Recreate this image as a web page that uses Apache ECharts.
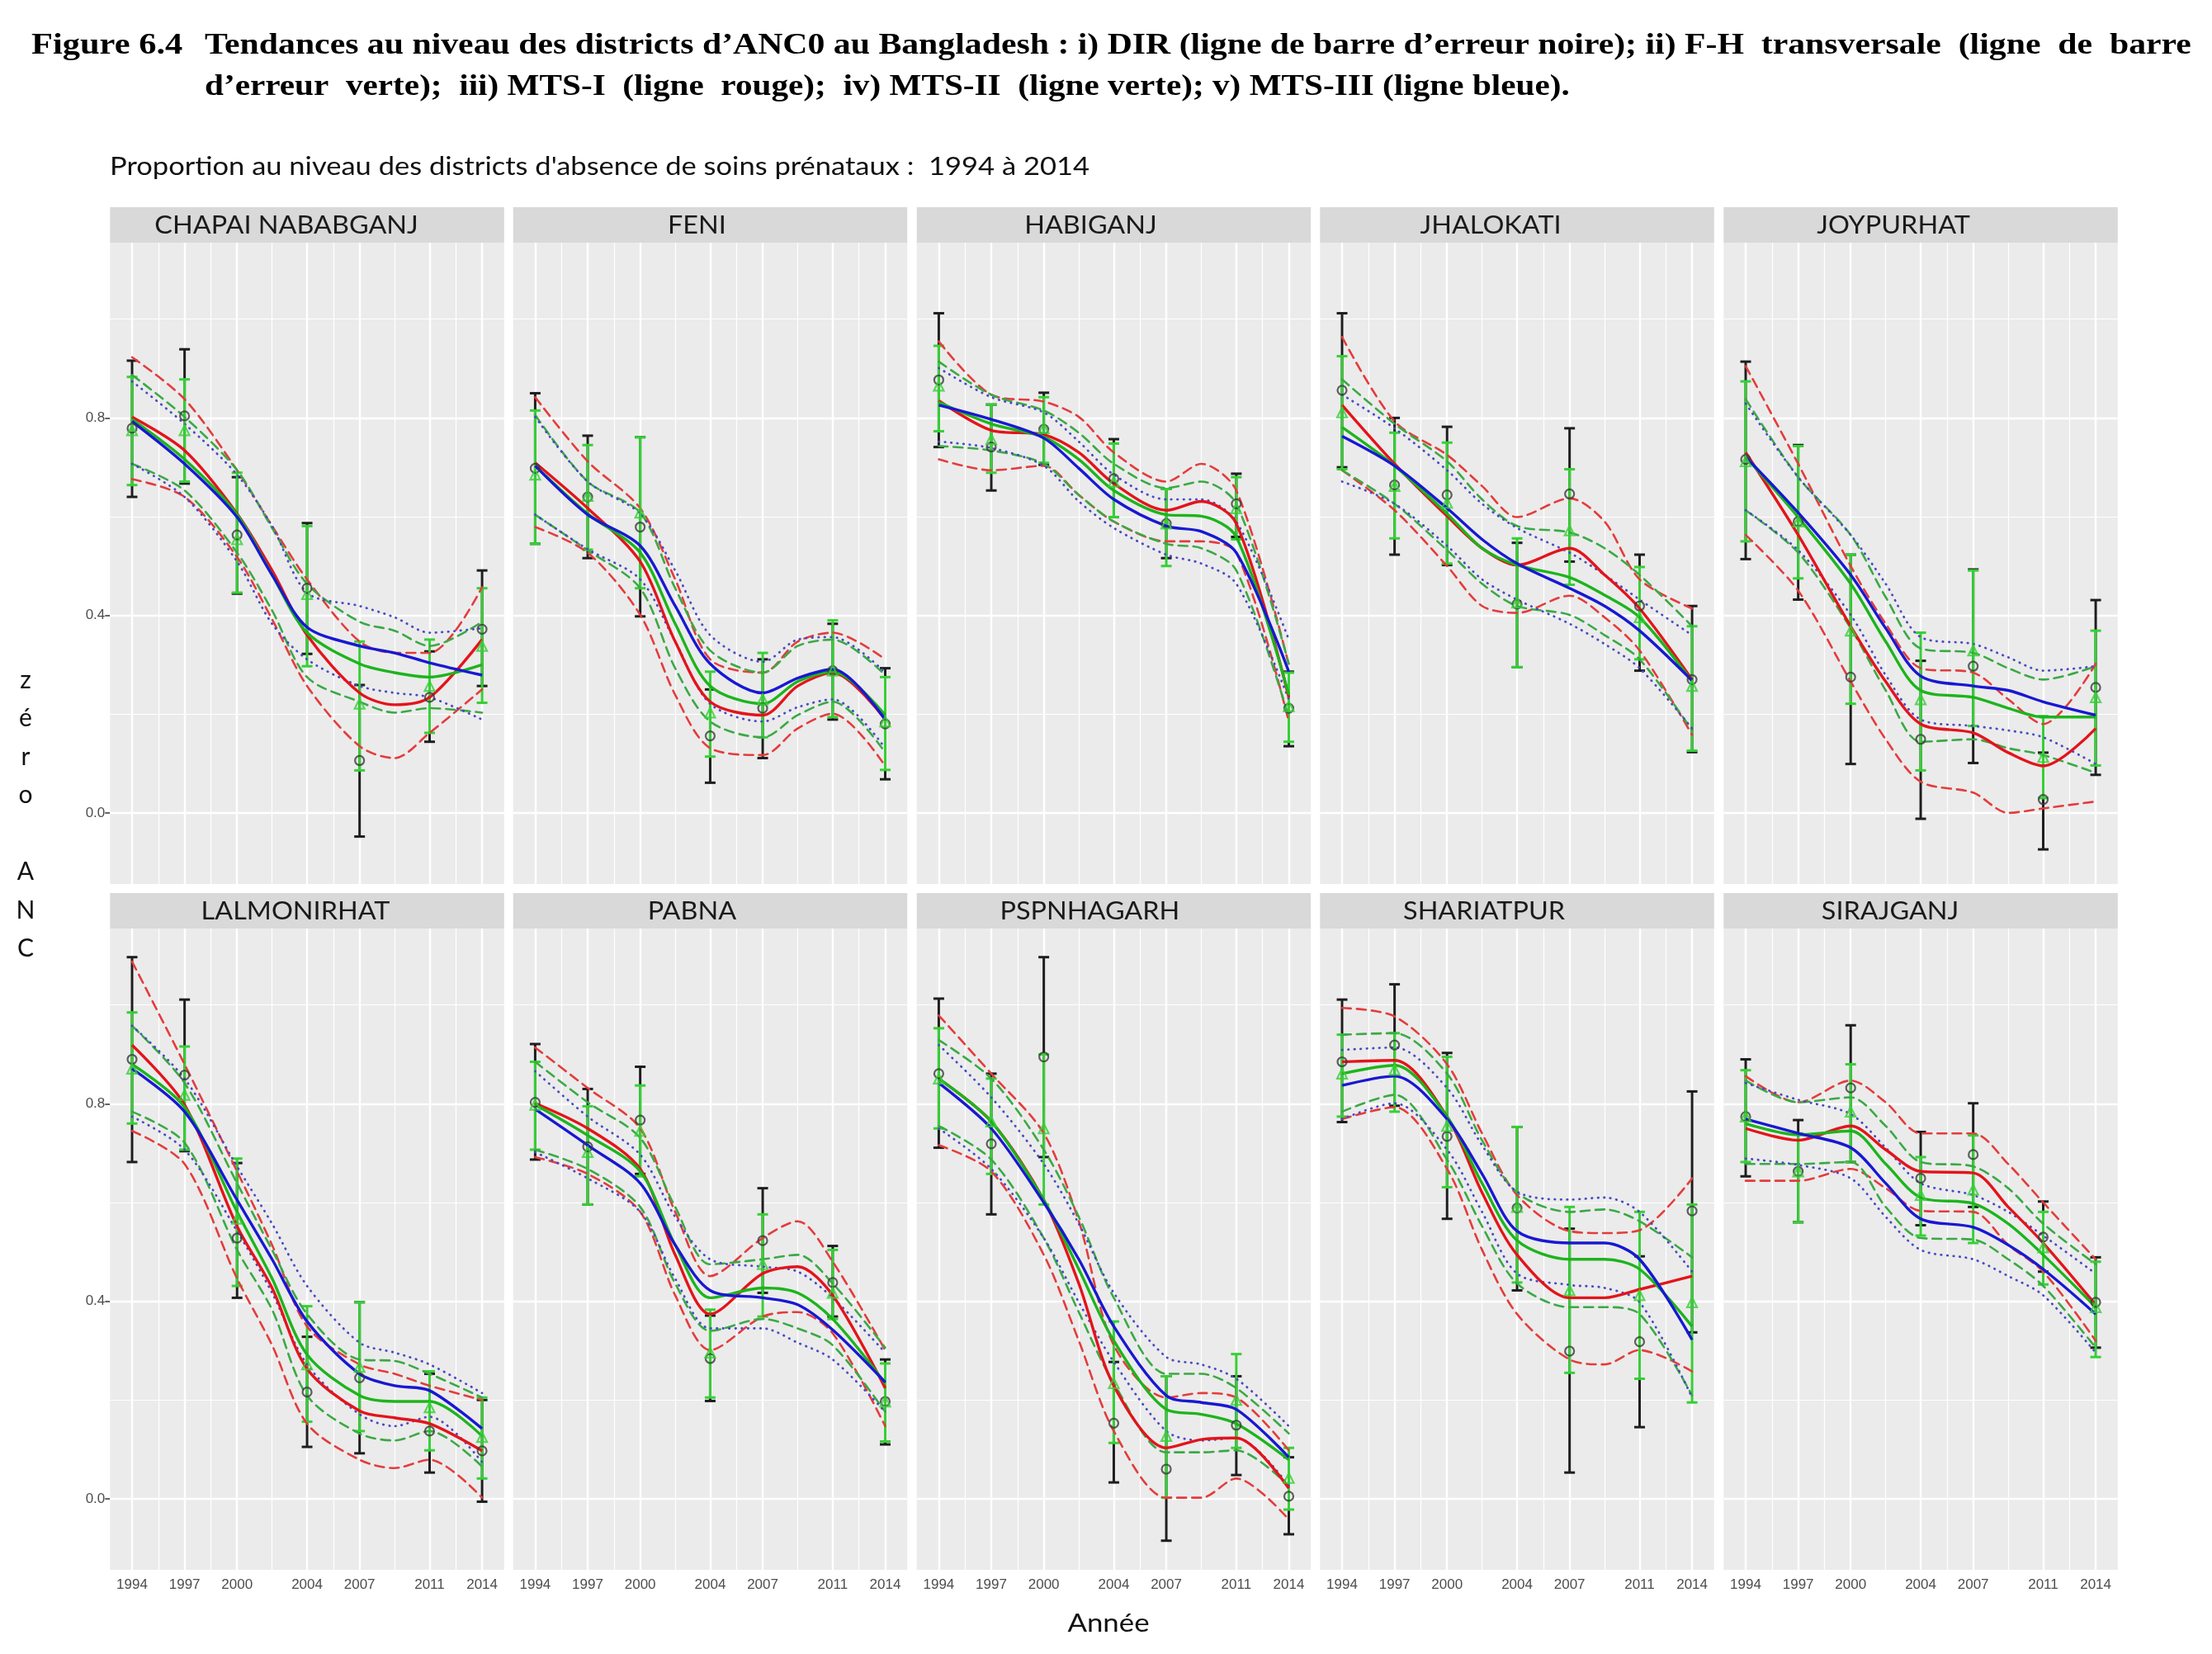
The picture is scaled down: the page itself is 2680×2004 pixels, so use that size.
<!DOCTYPE html>
<html><head><meta charset="utf-8">
<script src="https://cdn.jsdelivr.net/npm/echarts@6/dist/echarts.min.js"></script>
<style>html,body{margin:0;padding:0;background:#fff}#c{width:2680px;height:2004px}</style>
</head><body><div id="c"></div>
<script>
// ---------- DATA ----------
const districts = ['CHAPAI NABABGANJ','FENI','HABIGANJ','JHALOKATI','JOYPURHAT','LALMONIRHAT','PABNA','PSPNHAGARH','SHARIATPUR','SIRAJGANJ'];
const surveyYears = [1994,1997,2000,2004,2007,2011,2014];
const curveYears = [1994,1997,2000,2002,2004,2007,2009,2011,2014];
const yTickValues = [0, 0.4, 0.8];
const yMinorValues = [0.2, 0.6, 1.0];
const xMinorValues = [1995.5,1998.5,2002,2005.5,2009,2012.5];

// DIR (black error bars, open circles) at surveyYears
const dirMid = [
 [0.779,0.804,0.563,0.455,0.106,0.234,0.372],
 [0.698,0.640,0.579,0.156,0.212,0.288,0.180],
 [0.877,0.741,0.777,0.677,0.586,0.626,0.212],
 [0.856,0.664,0.644,0.423,0.646,0.419,0.270],
 [0.716,0.590,0.275,0.149,0.297,0.027,0.254],
 [0.890,0.858,0.528,0.216,0.245,0.137,0.097],
 [0.803,0.713,0.767,0.284,0.523,0.438,0.197],
 [0.861,0.719,0.895,0.153,0.060,0.149,0.005],
 [0.885,0.919,0.734,0.589,0.299,0.318,0.583],
 [0.774,0.663,0.832,0.649,0.697,0.530,0.398]];
const dirLow = [
 [0.640,0.667,0.444,0.322,-0.048,0.144,0.257],
 [0.545,0.516,0.398,0.061,0.111,0.189,0.068],
 [0.741,0.653,0.705,0.599,0.516,0.559,0.135],
 [0.700,0.523,0.502,0.295,0.509,0.288,0.123],
 [0.514,0.432,0.099,-0.012,0.101,-0.074,0.077],
 [0.682,0.704,0.407,0.105,0.092,0.053,-0.006],
 [0.687,0.596,0.658,0.198,0.417,0.369,0.110],
 [0.711,0.576,0.692,0.033,-0.085,0.048,-0.072],
 [0.763,0.796,0.567,0.422,0.053,0.145,0.337],
 [0.653,0.560,0.682,0.554,0.591,0.460,0.306]];
const dirHigh = [
 [0.916,0.939,0.680,0.587,0.259,0.327,0.491],
 [0.850,0.764,0.761,0.250,0.311,0.383,0.293],
 [1.012,0.827,0.851,0.757,0.656,0.687,0.286],
 [1.012,0.800,0.782,0.547,0.779,0.523,0.419],
 [0.914,0.745,0.523,0.308,0.493,0.122,0.431],
 [1.097,1.011,0.680,0.328,0.398,0.253,0.200],
 [0.921,0.830,0.875,0.371,0.629,0.512,0.282],
 [1.013,0.861,1.097,0.277,0.248,0.248,0.084],
 [1.011,1.042,0.903,0.753,0.547,0.491,0.825],
 [0.890,0.767,0.959,0.743,0.801,0.602,0.489]];

// F-H transversale (green error bars, open triangles) at surveyYears
const fhMid = [
 [0.775,0.775,0.554,0.443,0.221,0.257,0.338],
 [0.685,0.642,0.608,0.203,0.230,0.288,0.185],
 [0.865,0.757,0.779,0.671,0.586,0.617,0.216],
 [0.811,0.662,0.628,0.426,0.572,0.396,0.257],
 [0.712,0.590,0.369,0.230,0.329,0.113,0.234],
 [0.871,0.818,0.567,0.272,0.267,0.185,0.125],
 [0.798,0.702,0.745,0.296,0.475,0.417,0.197],
 [0.851,0.764,0.750,0.234,0.127,0.200,0.042],
 [0.861,0.869,0.755,0.591,0.422,0.412,0.398],
 [0.774,0.663,0.784,0.615,0.626,0.509,0.388]];
const fhLow = [
 [0.664,0.671,0.446,0.297,0.086,0.162,0.223],
 [0.545,0.533,0.455,0.114,0.153,0.194,0.087],
 [0.773,0.689,0.709,0.599,0.500,0.554,0.144],
 [0.696,0.556,0.505,0.295,0.462,0.311,0.126],
 [0.550,0.475,0.221,0.086,0.176,0.030,0.096],
 [0.760,0.707,0.431,0.156,0.137,0.098,0.041],
 [0.707,0.596,0.653,0.205,0.369,0.364,0.116],
 [0.750,0.658,0.596,0.113,0.002,0.103,-0.022],
 [0.774,0.784,0.631,0.438,0.255,0.243,0.195],
 [0.682,0.560,0.682,0.533,0.518,0.434,0.287]];
const fhHigh = [
 [0.883,0.878,0.689,0.581,0.347,0.351,0.455],
 [0.815,0.745,0.761,0.286,0.324,0.390,0.275],
 [0.946,0.827,0.842,0.748,0.656,0.680,0.284],
 [0.925,0.770,0.750,0.556,0.696,0.498,0.378],
 [0.874,0.743,0.523,0.365,0.491,0.196,0.369],
 [0.985,0.916,0.689,0.390,0.398,0.258,0.205],
 [0.885,0.795,0.837,0.383,0.576,0.504,0.274],
 [0.953,0.851,0.900,0.359,0.248,0.293,0.103],
 [0.940,0.943,0.895,0.753,0.591,0.581,0.596],
 [0.868,0.740,0.880,0.692,0.736,0.581,0.480]];

// MTS-I (red) at curveYears
const mts1 = [
 [0.802,0.734,0.606,0.491,0.360,0.243,0.219,0.234,0.351],
 [0.709,0.617,0.509,0.347,0.225,0.198,0.257,0.284,0.189],
 [0.835,0.775,0.766,0.730,0.667,0.613,0.631,0.586,0.234],
 [0.826,0.707,0.601,0.536,0.502,0.536,0.482,0.414,0.270],
 [0.730,0.563,0.378,0.266,0.180,0.162,0.122,0.095,0.171],
 [0.919,0.798,0.552,0.427,0.263,0.178,0.164,0.152,0.097],
 [0.801,0.750,0.668,0.494,0.374,0.456,0.470,0.412,0.224],
 [0.851,0.764,0.605,0.436,0.229,0.103,0.120,0.123,0.021],
 [0.885,0.888,0.774,0.620,0.494,0.407,0.407,0.424,0.451],
 [0.750,0.726,0.755,0.707,0.663,0.660,0.591,0.518,0.393]];
const mts1High = [
 [0.923,0.838,0.694,0.581,0.473,0.347,0.324,0.324,0.457],
 [0.842,0.712,0.617,0.473,0.311,0.284,0.347,0.365,0.311],
 [0.955,0.847,0.833,0.802,0.730,0.671,0.707,0.653,0.300],
 [0.964,0.793,0.725,0.662,0.599,0.637,0.590,0.473,0.414],
 [0.905,0.707,0.500,0.383,0.293,0.284,0.230,0.180,0.302],
 [1.088,0.880,0.663,0.514,0.349,0.272,0.253,0.229,0.200],
 [0.914,0.832,0.750,0.581,0.451,0.528,0.562,0.480,0.301],
 [0.979,0.861,0.740,0.562,0.311,0.205,0.214,0.205,0.098],
 [0.994,0.977,0.880,0.740,0.615,0.542,0.538,0.544,0.649],
 [0.856,0.803,0.847,0.803,0.740,0.740,0.678,0.600,0.485]];
const mts1Low = [
 [0.676,0.640,0.518,0.392,0.257,0.135,0.111,0.162,0.250],
 [0.579,0.527,0.401,0.239,0.131,0.117,0.171,0.201,0.095],
 [0.716,0.694,0.703,0.644,0.590,0.550,0.550,0.527,0.185],
 [0.694,0.613,0.500,0.419,0.405,0.440,0.396,0.329,0.158],
 [0.563,0.450,0.266,0.149,0.063,0.041,0.000,0.009,0.023],
 [0.745,0.678,0.446,0.311,0.152,0.079,0.062,0.079,0.002],
 [0.692,0.658,0.581,0.412,0.301,0.369,0.378,0.335,0.147],
 [0.716,0.663,0.494,0.320,0.137,0.002,0.002,0.041,-0.042],
 [0.769,0.793,0.668,0.504,0.374,0.282,0.272,0.301,0.258],
 [0.644,0.644,0.668,0.629,0.583,0.581,0.514,0.460,0.320]];

// MTS-II (green) at curveYears
const mts2 = [
 [0.797,0.716,0.604,0.482,0.365,0.302,0.284,0.275,0.300],
 [0.703,0.606,0.527,0.383,0.257,0.221,0.266,0.286,0.198],
 [0.832,0.788,0.761,0.716,0.653,0.604,0.601,0.559,0.239],
 [0.781,0.703,0.606,0.536,0.502,0.477,0.441,0.396,0.266],
 [0.721,0.599,0.464,0.347,0.248,0.234,0.212,0.194,0.194],
 [0.880,0.793,0.581,0.446,0.292,0.209,0.197,0.197,0.127],
 [0.798,0.736,0.663,0.514,0.407,0.427,0.417,0.364,0.234],
 [0.851,0.764,0.605,0.465,0.320,0.181,0.171,0.152,0.079],
 [0.861,0.878,0.774,0.639,0.523,0.485,0.485,0.465,0.349],
 [0.760,0.737,0.745,0.678,0.610,0.598,0.557,0.494,0.388]];
const mts2High = [
 [0.887,0.802,0.694,0.577,0.464,0.387,0.369,0.338,0.387],
 [0.806,0.671,0.608,0.455,0.329,0.284,0.338,0.351,0.279],
 [0.914,0.847,0.815,0.770,0.707,0.658,0.671,0.626,0.302],
 [0.878,0.788,0.712,0.635,0.581,0.568,0.536,0.482,0.378],
 [0.838,0.680,0.563,0.437,0.333,0.324,0.293,0.270,0.297],
 [0.958,0.842,0.639,0.504,0.374,0.282,0.279,0.253,0.205],
 [0.885,0.803,0.731,0.591,0.475,0.485,0.494,0.436,0.306],
 [0.929,0.851,0.707,0.571,0.407,0.253,0.253,0.224,0.132],
 [0.940,0.943,0.861,0.726,0.620,0.581,0.586,0.562,0.489],
 [0.847,0.803,0.813,0.755,0.682,0.673,0.629,0.557,0.475]];
const mts2Low = [
 [0.707,0.653,0.527,0.410,0.275,0.225,0.203,0.212,0.203],
 [0.604,0.532,0.455,0.293,0.185,0.153,0.198,0.225,0.122],
 [0.743,0.734,0.707,0.644,0.590,0.545,0.536,0.491,0.194],
 [0.694,0.626,0.532,0.464,0.419,0.401,0.360,0.311,0.167],
 [0.613,0.527,0.374,0.248,0.144,0.149,0.131,0.117,0.081],
 [0.784,0.721,0.504,0.383,0.209,0.132,0.118,0.137,0.065],
 [0.707,0.668,0.591,0.436,0.340,0.364,0.345,0.311,0.176],
 [0.755,0.687,0.528,0.378,0.234,0.094,0.094,0.098,0.026],
 [0.784,0.818,0.687,0.552,0.436,0.388,0.388,0.374,0.209],
 [0.678,0.678,0.682,0.591,0.528,0.525,0.485,0.431,0.306]];

// MTS-III (blue) at curveYears
const mts3 = [
 [0.793,0.707,0.599,0.482,0.376,0.338,0.324,0.304,0.279],
 [0.703,0.604,0.541,0.419,0.302,0.243,0.273,0.291,0.189],
 [0.826,0.797,0.759,0.698,0.635,0.581,0.570,0.527,0.286],
 [0.763,0.703,0.617,0.554,0.505,0.455,0.419,0.369,0.268],
 [0.721,0.608,0.482,0.374,0.277,0.257,0.248,0.225,0.198],
 [0.871,0.784,0.605,0.485,0.359,0.253,0.229,0.219,0.142],
 [0.789,0.716,0.639,0.514,0.422,0.407,0.393,0.342,0.236],
 [0.842,0.750,0.600,0.485,0.349,0.209,0.195,0.181,0.084],
 [0.837,0.856,0.769,0.658,0.542,0.518,0.518,0.485,0.322],
 [0.769,0.740,0.711,0.639,0.567,0.550,0.514,0.465,0.374]];
const mts3High = [
 [0.874,0.788,0.685,0.581,0.446,0.419,0.396,0.365,0.374],
 [0.802,0.671,0.606,0.491,0.360,0.306,0.351,0.356,0.284],
 [0.901,0.842,0.811,0.752,0.685,0.635,0.635,0.590,0.351],
 [0.847,0.779,0.694,0.626,0.577,0.527,0.482,0.432,0.360],
 [0.829,0.680,0.563,0.464,0.356,0.342,0.315,0.288,0.297],
 [0.958,0.851,0.673,0.557,0.431,0.316,0.296,0.272,0.214],
 [0.866,0.774,0.697,0.571,0.485,0.470,0.460,0.407,0.296],
 [0.919,0.813,0.678,0.557,0.417,0.287,0.272,0.243,0.147],
 [0.909,0.914,0.832,0.716,0.622,0.606,0.610,0.581,0.460],
 [0.842,0.808,0.779,0.711,0.639,0.615,0.581,0.533,0.456]];
const mts3Low = [
 [0.707,0.640,0.509,0.383,0.311,0.257,0.243,0.234,0.189],
 [0.604,0.534,0.473,0.347,0.221,0.185,0.214,0.230,0.131],
 [0.752,0.739,0.703,0.631,0.577,0.523,0.505,0.464,0.230],
 [0.671,0.626,0.541,0.473,0.432,0.383,0.342,0.293,0.171],
 [0.613,0.532,0.401,0.279,0.189,0.176,0.167,0.153,0.099],
 [0.774,0.707,0.542,0.417,0.272,0.171,0.147,0.166,0.074],
 [0.702,0.649,0.581,0.446,0.345,0.345,0.316,0.282,0.176],
 [0.750,0.668,0.528,0.398,0.277,0.137,0.118,0.123,0.026],
 [0.769,0.801,0.707,0.581,0.456,0.433,0.427,0.398,0.205],
 [0.689,0.676,0.649,0.571,0.504,0.485,0.451,0.412,0.296]];

// ---------- LAYOUT ----------
const colLeft = [133.3, 621.7, 1110.7, 1599.3, 2088.3];
const plotW = 477.5;
const rowTop = [294, 1125];
const plotH = 777;
const stripH = 43;
const stripShift = [-25,-16,-28,-32,-33,-14,-22,-29,-40,-37];
const xMin = 1992.74, xMax = 2015.26, yMin = -0.144, yMax = 1.155;

const C = {
  red:'#E3141B', redCI:'#E43C3C',
  green:'#1DB41D', greenCI:'#3BA945',
  blue:'#1818D2', blueCI:'#4A4AC4',
  dir:'#1E1E1E', dirPt:'#3A3A3A',
  fh:'#36D036'
};

const grids=[], xAxes=[], yAxes=[], series=[], graphics=[];

// error bar drawn as filled rectangles positioned through the axis scales
function errBar(color, lw, hw){
  return function(params, api){
    const x = api.value(0);
    const a = api.coord([x, api.value(1)]); // low
    const b = api.coord([x, api.value(2)]); // high
    const fill = {fill: color, stroke: null};
    return {type:'group', children:[
      {type:'rect', shape:{x:a[0]-lw/2, y:b[1], width:lw, height:a[1]-b[1]}, style:fill},
      {type:'rect', shape:{x:a[0]-hw, y:a[1]-lw/2, width:2*hw, height:lw}, style:fill},
      {type:'rect', shape:{x:b[0]-hw, y:b[1]-lw/2, width:2*hw, height:lw}, style:fill}
    ]};
  };
}

function curve(i, arr, color, width, type, z){
  return {type:'line', xAxisIndex:i, yAxisIndex:i, z:z, silent:true,
    data: curveYears.map((yr,k)=>[yr, arr[i][k]]),
    showSymbol:false, symbol:'none', smooth:0.3,
    lineStyle:{color:color, width:width, type:type, cap: type==='solid'?'butt':'round'},
    emphasis:{disabled:true}};
}

districts.forEach((name, i) => {
  const c = i % 5, r = Math.floor(i / 5);
  const bottom = r === 1, left = c === 0;
  grids.push({left: colLeft[c], top: rowTop[r], width: plotW, height: plotH,
    show: true, backgroundColor: '#EBEBEB', borderWidth: 0});
  xAxes.push({gridIndex:i, type:'value', min:xMin, max:xMax,
    splitLine:{show:false}, axisLine:{show:false},
    axisTick:{show:bottom, customValues:surveyYears, length:6, lineStyle:{color:'#333', width:1.5}},
    axisLabel:{show:bottom, customValues:surveyYears, color:'#4D4D4D', fontSize:17,
      fontFamily:'Liberation Sans', margin:10, formatter: v => String(v)}});
  yAxes.push({gridIndex:i, type:'value', min:yMin, max:yMax,
    splitLine:{show:false}, axisLine:{show:false},
    axisTick:{show:left, customValues:yTickValues, length:6, lineStyle:{color:'#333', width:1.5}},
    axisLabel:{show:left, customValues:yTickValues, color:'#4D4D4D', fontSize:17,
      fontFamily:'Liberation Sans', margin:6, formatter: v => v.toFixed(1)}});

  const major = {color:'#FFFFFF', width:2.4, type:'solid'};
  const minor = {color:'#FFFFFF', width:1.2, type:'solid'};
  series.push({type:'line', xAxisIndex:i, yAxisIndex:i, data:[], z:1, silent:true,
    markLine:{z:1, silent:true, symbol:['none','none'], animation:false, label:{show:false},
      emphasis:{disabled:true},
      data:[
        ...yMinorValues.map(v=>({yAxis:v, lineStyle:minor})),
        ...xMinorValues.map(v=>({xAxis:v, lineStyle:minor})),
        ...yTickValues.map(v=>({yAxis:v, lineStyle:major})),
        ...surveyYears.map(v=>({xAxis:v, lineStyle:major}))
      ]}});

  // error bars
  series.push({type:'custom', xAxisIndex:i, yAxisIndex:i, z:10, silent:true,
    renderItem: errBar(C.dir, 3.0, 6.5),
    encode:{x:0, y:[1,2]},
    data: surveyYears.map((yr,k)=>[yr, dirLow[i][k], dirHigh[i][k]])});
  series.push({type:'custom', xAxisIndex:i, yAxisIndex:i, z:11, silent:true,
    renderItem: errBar(C.fh, 3.0, 6.5),
    encode:{x:0, y:[1,2]},
    data: surveyYears.map((yr,k)=>[yr, fhLow[i][k], fhHigh[i][k]])});

  // CI lines
  series.push(curve(i, mts1High, C.redCI, 2.6, [11,7], 12));
  series.push(curve(i, mts1Low, C.redCI, 2.6, [11,7], 12));
  series.push(curve(i, mts2High, C.greenCI, 2.6, [11,7], 12));
  series.push(curve(i, mts2Low, C.greenCI, 2.6, [11,7], 12));
  series.push(curve(i, mts3High, C.blueCI, 2.8, [0.5,7], 12));
  series.push(curve(i, mts3Low, C.blueCI, 2.8, [0.5,7], 12));
  // main lines
  series.push(curve(i, mts1, C.red, 3.4, 'solid', 13));
  series.push(curve(i, mts2, C.green, 3.4, 'solid', 13));
  series.push(curve(i, mts3, C.blue, 3.4, 'solid', 13));

  // points
  series.push({type:'scatter', xAxisIndex:i, yAxisIndex:i, z:14, silent:true,
    symbol:'circle', symbolSize:11,
    itemStyle:{color:'rgba(0,0,0,0)', borderColor:C.dirPt, borderWidth:2.2},
    data: surveyYears.map((yr,k)=>[yr, dirMid[i][k]])});
  series.push({type:'scatter', xAxisIndex:i, yAxisIndex:i, z:14, silent:true,
    symbol:'triangle', symbolSize:12,
    itemStyle:{color:'rgba(0,0,0,0)', borderColor:C.fh, borderWidth:2.2},
    data: surveyYears.map((yr,k)=>[yr, fhMid[i][k]])});

  // strip
  graphics.push({type:'rect', silent:true,
    shape:{x:colLeft[c], y:rowTop[r]-stripH, width:plotW, height:stripH},
    style:{fill:'#D9D9D9'}});
  graphics.push({type:'text', silent:true,
    x: colLeft[c] + plotW/2 + stripShift[i], y: rowTop[r] - stripH/2 + 1, scaleX:1.08,
    style:{text:name, fontFamily:'Lato', fontSize:30, fill:'#1A1A1A', align:'center', verticalAlign:'middle'}});
});

// titles & axis titles (reference text is horizontally stretched)
graphics.push({type:'text', silent:true, x:38, y:56, scaleX:1.18,
  style:{text:'Figure 6.4', fontFamily:'Liberation Serif', fontWeight:'bold', fontSize:36, fill:'#000', verticalAlign:'middle'}});
graphics.push({type:'text', silent:true, x:248, y:56, scaleX:1.16,
  style:{text:'Tendances au niveau des districts d’ANC0 au Bangladesh : i) DIR (ligne de barre d’erreur noire); ii) F-H  transversale  (ligne  de  barre',
    fontFamily:'Liberation Serif', fontWeight:'bold', fontSize:36, fill:'#000', verticalAlign:'middle'}});
graphics.push({type:'text', silent:true, x:248, y:106, scaleX:1.145,
  style:{text:'d’erreur  verte);  iii) MTS-I  (ligne  rouge);  iv) MTS-II  (ligne verte); v) MTS-III (ligne bleue).',
    fontFamily:'Liberation Serif', fontWeight:'bold', fontSize:36, fill:'#000', verticalAlign:'middle'}});
graphics.push({type:'text', silent:true, x:133, y:202, scaleX:1.15,
  style:{text:"Proportion au niveau des districts d'absence de soins prénataux :  1994 à 2014",
    fontFamily:'Lato', fontSize:30, fill:'#111', verticalAlign:'middle'}});
graphics.push({type:'text', silent:true, x:1343, y:1967, scaleX:1.16,
  style:{text:'Année', fontFamily:'Lato', fontSize:30, fill:'#111', align:'center', verticalAlign:'middle'}});
graphics.push({type:'text', silent:true, x:31, y:801,
  style:{text:'z\né\nr\no\n\nA\nN\nC', fontFamily:'Lato', fontSize:30, lineHeight:46.5, fill:'#111', align:'center', verticalAlign:'top'}});

const chart = echarts.init(document.getElementById('c'), null, {renderer:'canvas', width:2680, height:2004});
chart.setOption({
  animation:false,
  backgroundColor:'#FFFFFF',
  grid: grids, xAxis: xAxes, yAxis: yAxes, series: series,
  graphic: graphics
});
</script>
</body></html>
